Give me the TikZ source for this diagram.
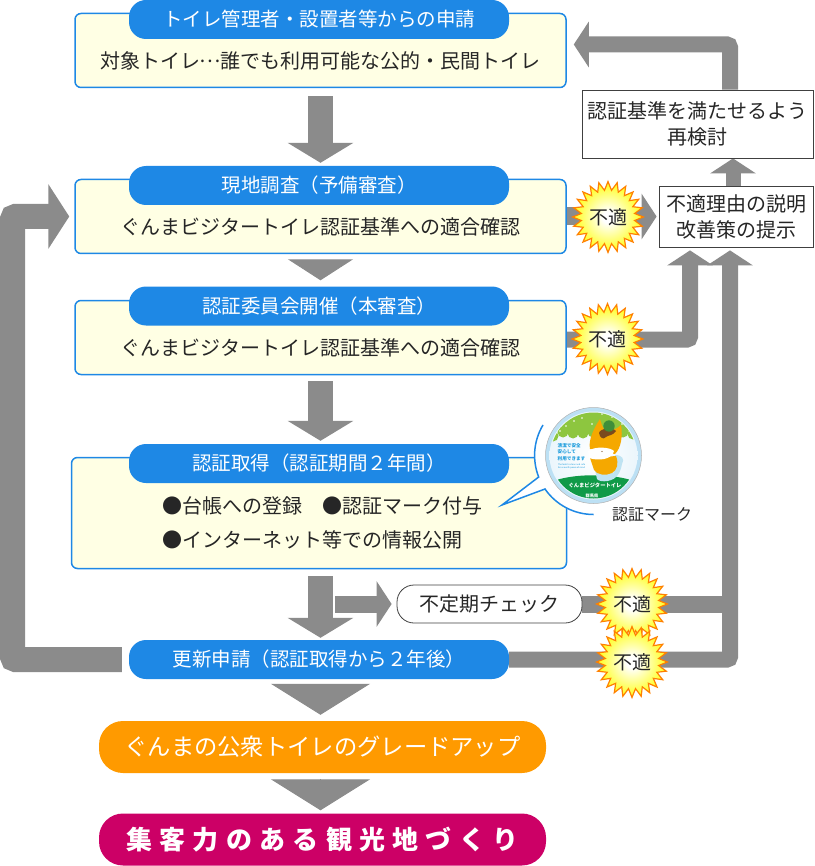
\documentclass[tikz,border=0pt]{standalone}
\usepackage{fontspec}
\setmainfont{Noto Sans CJK JP}
\usepackage{tikz}
\usetikzlibrary{arrows.meta,shapes.geometric,backgrounds}

\definecolor{flowblue}{HTML}{1E88E5}
\definecolor{boxcream}{HTML}{FFFFE4}
\definecolor{flowgray}{HTML}{8B8B8B}
\definecolor{upgrade}{HTML}{FF9A00}
\definecolor{goal}{HTML}{CC0066}
\definecolor{leaf}{HTML}{8DC63F}
\definecolor{band}{HTML}{109A48}
\definecolor{horse}{HTML}{F5A800}
\definecolor{ringblue}{HTML}{BCE0F4}
\definecolor{bowl}{HTML}{BFE3F2}
\definecolor{inkblue}{HTML}{1A9BDC}
\definecolor{hair}{HTML}{7A4A1E}
\definecolor{hatgreen}{HTML}{3E8E3A}

\pgfdeclareradialshading{burst}{\pgfpoint{0bp}{0bp}}{color(0bp)=(white);color(4bp)=(white);color(27bp)=(yellow);color(50bp)=(yellow)}

\tikzset{
	box/.style={draw=flowblue,fill=boxcream,line width=1.5pt,rounded corners=6pt,minimum width=491pt},
	pill/.style={fill=flowblue,text=white,rounded corners=17pt,minimum width=380pt,minimum height=39pt,font=\fontsize{19.5}{22}\selectfont},
	body/.style={font=\fontsize{20}{24}\selectfont,text=black!85},
	note/.style={draw=black!75,fill=white,line width=.8pt,align=center,font=\fontsize{20}{26}\selectfont,text=black!85},
	burst/.style={star,star points=24,star point ratio=1.32,minimum size=69pt,inner sep=0pt,shading=burst,draw=orange,line width=1.2pt,font=\fontsize{19}{22}\selectfont,text=black!85},
	wide/.style={text=white,rounded corners=24pt,minimum width=447pt,minimum height=52pt},
	bigarrow/.style={draw=flowgray,line width=25pt,-{Triangle[length=20pt,width=65pt]}},
	sidearrow/.style={draw=flowgray,line width=16pt,-{Triangle[length=15pt,width=45pt]},rounded corners=3pt},
	wedge/.style={draw=flowgray,line width=1pt,-{Triangle[length=21pt,width=65pt]}},
	bar/.style={draw=flowgray,line width=17pt}
}

\begin{document}
\begin{tikzpicture}[x=1pt,y=-1pt]
	\useasboundingbox (0,0) rectangle (814,866);

	\node[box,minimum height=74pt] (box1) at (320.5,50.5) {};
	\node[box,minimum height=74pt] (box2) at (320.5,216.5) {};
	\node[box,minimum height=74pt] (box3) at (320.5,337.5) {};
	\node[box,minimum width=495pt,minimum height=111pt] (box4) at (319,513) {};

	\node[pill] (pill1) at (319,19.5) {トイレ管理者・設置者等からの申請};
	\node[pill] (pill2) at (319,185.5) {現地調査（予備審査）};
	\node[pill] (pill3) at (319,306) {認証委員会開催（本審査）};
	\node[pill] (pill4) at (319,463.5) {認証取得（認証期間２年間）};
	\node[pill] (pill5) at (319,659.5) {更新申請（認証取得から２年後）};

	\node[body] (text1) at (320.5,61) {対象トイレ\makebox[20pt]{\raisebox{6pt}{…}}誰でも利用可能な公的・民間トイレ};
	\node[body] (text2) at (320.5,227) {ぐんまビジタートイレ認証基準への適合確認};
	\node[body] (text3) at (320.5,348) {ぐんまビジタートイレ認証基準への適合確認};
	\node[body,anchor=west,inner sep=0pt] (text4) at (162,506) {●台帳への登録　●認証マーク付与};
	\node[body,anchor=west,inner sep=0pt] (text5) at (162,540) {●インターネット等での情報公開};

	\node[note,minimum width=231pt,minimum height=68pt] (recheck) at (697.5,124) {認証基準を満たせるよう\\再検討};
	\node[note,minimum width=154pt,minimum height=61pt] (reason) at (736,216.5) {不適理由の説明\\改善策の提示};
	\node[note,rounded corners=17pt,minimum width=185pt,minimum height=38pt] (check) at (489.5,604) {不定期チェック};

	\node[wide,fill=upgrade,font=\fontsize{23.3}{26}\selectfont] (better) at (322.5,747) {ぐんまの公衆トイレのグレードアップ};
	\node[wide,fill=goal,font=\fontsize{26}{30}\bfseries\addfontfeature{LetterSpace=28}] (tourism) at (322.5,839.5) {集客力のある観光地づくり};

	% speech bubble round the mark
	\fill[white] (593.5,455.5) circle (59);
	\draw[draw=flowblue,fill=white,line width=1.5pt] (543,425) arc (211:158.5:59) -- (502,505) -- (545,489) arc (145.4:90:59);
	\node[circle,draw=black!30,fill=ringblue,line width=.5pt,minimum size=96pt] (mark) at (593.5,455.5) {};
	\shade[inner color=white,outer color=white!70!ringblue] (mark.center) circle (44);
	\begin{scope}
		\clip (mark.center) circle (43);
		\fill[leaf] (545,405) rectangle (642,431);
		\foreach \leafx/\leafy in {553/436,563/432,573/433,583/433,593/432,603/433,613/433,623/432,633/434}
			\fill[leaf] (\leafx,\leafy) circle (5.5);
		\foreach \dotx/\doty in {566/426,574/421,582/418,592/424,560/431,612/417,622/424,602/414,630/429}
			\fill[white] (\dotx,\doty) circle (.9);
		\fill[band] (545,485) .. controls (565,472) and (622,472) .. (642,485) -- (642,505) -- (545,505) -- cycle;
		% toilet
		\fill[bowl] (615,455) .. controls (622,455) and (625,459) .. (622,464) .. controls (621,470) and (619,474) .. (616,477) -- (612,470) -- cycle;
		\fill[bowl] (595,470) -- (618,474) .. controls (615,482) and (600,483) .. (597,479) -- cycle;
		% mascot
		\fill[horse] (590,449) .. controls (588,440) and (594,428) .. (600,419) .. controls (602,426) and (604,431) .. (607,431) .. controls (613,431) and (618,428) .. (621,425) .. controls (623,436) and (621,448) .. (615,454) -- cycle;
		\fill[horse] (590,458) -- (616,456) .. controls (619,464) and (617,470) .. (612,473) .. controls (606,476) and (597,475) .. (594,470) -- cycle;
		\fill[hair] (599,433) .. controls (600,428) and (613,427) .. (616,431) .. controls (613,436) and (608,435) .. (606,437) .. controls (603,440) and (600,438) .. (599,433) -- cycle;
		\fill[hatgreen] (609,426) circle (5.7);
		\fill[white] (588,451) .. controls (595,446) and (610,447) .. (614,451) .. controls (612,460) and (598,461) .. (589,458) -- cycle;
		\fill[hair] (602,451.5) circle (.7);
	\end{scope}
	\node[inner sep=0pt,text=inkblue,align=left,font=\fontsize{4.6}{6.7}\bfseries] (marktext) at (571.5,452) {清潔で安全\\安心して\\利用できます};
	\node[inner sep=0pt,text=inkblue,align=left,font=\fontsize{2.2}{3.2}\selectfont] (markeng) at (571.5,466) {The toilet is clean and safe\\for use with peace of mind};
	\node[inner sep=0pt,text=white,font=\fontsize{5.3}{6}\bfseries] (markname) at (595,485.5) {ぐんまビジタートイレ};
	\node[inner sep=0pt,text=white,font=\fontsize{4.2}{5}\bfseries] (markpref) at (592,496) {群馬県};
	\node[inner sep=0pt,font=\fontsize{16}{18}\selectfont,text=black!85] (marklabel) at (652,515) {認証マーク};

	\node[burst] (ng1) at (608,217) {不適};
	\node[burst] (ng2) at (607.5,339) {不適};
	\node[burst] (ng3) at (632,604) {不適};
	\node[burst] (ng4) at (632,662) {不適};

	\coordinate (checkfrom) at (335,604);

	\begin{pgfonlayer}{background}
		\draw[bigarrow,shorten <=8pt,shorten >=3pt] (box1.south) -- (box1.south |- pill2.north);
		\draw[bigarrow,shorten <=6pt,shorten >=3pt] (box3.south) -- (box3.south |- pill4.north);
		\draw[bigarrow,shorten <=7pt,shorten >=2pt] (box3.south |- box4.south) -- (box3.south |- pill5.north);
		\draw[wedge,shorten <=6pt,shorten >=6pt] (box2.south) -- (box2.south |- pill3.north);
		\draw[wedge,-{Triangle[length=31pt,width=99pt]},shorten <=5pt,shorten >=6pt] (box1.south |- pill5.south) -- (box1.south |- better.north);
		\draw[wedge,-{Triangle[length=31pt,width=99pt]},shorten <=6pt,shorten >=3pt] (box1.south |- better.south) -- (box1.south |- tourism.north);

		% way back to the top
		\draw[sidearrow,line width=15pt] ([xshift=-3pt]reason.north) -- ([xshift=-3pt]reason.north |- recheck.south);
		\draw[sidearrow,shorten >=7pt] ([xshift=-6pt]reason.north |- recheck.north) |- ([yshift=6pt]box1.east);
		\draw[sidearrow,line width=18pt,shorten >=2pt] (box2.east) -- (reason.west);
		\draw[sidearrow,shorten >=3pt] ([yshift=-2pt]box3.east) -| ([xshift=-46pt]reason.south);
		\draw[sidearrow,shorten >=3pt] (pill5.east) -| ([xshift=-6pt]reason.south);
		\draw[bar] (check.east) -- (check.east -| reason.south);
		\draw[sidearrow,line width=17pt,shorten >=5pt] (checkfrom) -- (check.west);

		% long way round on the left
		\coordinate (leftrail) at (12.5,430);
		\draw[bigarrow,-{Triangle[length=21pt,width=64pt]},rounded corners=3pt,shorten <=7pt,shorten >=5pt] (pill5.west) -| (leftrail) |- (box2.west);
	\end{pgfonlayer}
\end{tikzpicture}
\end{document}
